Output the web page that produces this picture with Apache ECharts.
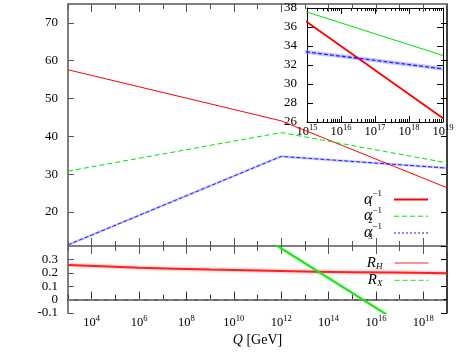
<!DOCTYPE html>
<html>
<head>
<meta charset="utf-8">
<script src="https://cdn.jsdelivr.net/npm/echarts@6/dist/echarts.min.js"></script>
<style>
  body { margin: 0; padding: 0; background: #fff; }
  #chart { width: 461px; height: 353px; }
</style>
</head>
<body>
<div id="chart"></div>
<script>
// x values are log10(Q / GeV)
const qExp = [3, 12, 19];
const alpha1Inv = [57.6, 44.1, 26.4];
const alpha2Inv = [30.8, 41.0, 33.0];
const alpha3Inv = [11.3, 34.7, 31.6];

const rhExp = [3, 6, 9, 12, 15, 19];
const rhVal = [0.258, 0.238, 0.224, 0.213, 0.205, 0.197];
const rxExp = [11.8, 16.5];
const rxVal = [0.405, -0.117];

const majorExp = [4, 6, 8, 10, 12, 14, 16, 18];
const mainYTicks = [20, 30, 40, 50, 60, 70];

const FONT = "Liberation Serif";

// log-spaced minor ticks inside the inset decades
const insetMinor = [];
for (let e = 15; e < 19; e++) {
  for (let k = 2; k <= 9; k++) insetMinor.push(e + Math.log10(k));
}

function pairs(xs, ys) {
  return xs.map((x, i) => [x, ys[i]]);
}

const powRich = {
  b: { fontFamily: FONT, fontSize: 12.5, color: "#000", lineHeight: 14 },
  s: { fontFamily: FONT, fontSize: 8.5, color: "#000", lineHeight: 9, padding: [0, 0, 9, 0] },
};
function powLabel(v) {
  return "{b|10}{s|" + Math.round(v) + "}";
}

function xAx(grid, pos, o) {
  return Object.assign(
    {
      type: "value",
      gridIndex: grid,
      position: pos,
      min: 3,
      max: 19,
      splitLine: { show: false },
      axisLine: { show: false },
      axisLabel: { show: false },
    },
    o
  );
}
function majorTick(len, color) {
  return { show: true, inside: true, length: len, customValues: majorExp, lineStyle: { color: color, width: 1 } };
}
function minorTick(len, color) {
  return { show: true, inside: true, length: len, lineStyle: { color: color, width: 1 } };
}

const grayLine = { show: true, lineStyle: { color: "#808080", width: 2 } };
const noSymbol = { color: "transparent", borderWidth: 0, opacity: 0 };

const option = {
  animation: false,
  grid: [
    { left: 68, top: 4, width: 379, height: 242, outerBoundsMode: "none" },
    { left: 68, top: 246, width: 379, height: 67, outerBoundsMode: "none" },
    { left: 307, top: 8, width: 136, height: 114, outerBoundsMode: "none" },
  ],
  xAxis: [
    // 0: main panel bottom (divider)
    xAx(0, "bottom", { axisLine: grayLine, axisTick: majorTick(8, "#555") }),
    xAx(0, "bottom", { interval: 1, axisTick: minorTick(5, "#555") }),
    // 2: main panel top
    xAx(0, "top", { axisLine: grayLine, axisTick: majorTick(8, "#555") }),
    xAx(0, "top", { interval: 1, axisTick: minorTick(5, "#555") }),
    // 4: lower panel bottom with labels
    xAx(1, "bottom", {
      axisLine: { show: true, lineStyle: { color: "#333", width: 1.5 } },
      axisTick: majorTick(8, "#333"),
      axisLabel: {
        show: true,
        customValues: majorExp,
        margin: 3,
        formatter: powLabel,
        rich: powRich,
      },
      name: "{q|Q} [GeV]",
      nameLocation: "middle",
      nameGap: 20,
      nameTextStyle: {
        fontFamily: FONT,
        fontSize: 14,
        color: "#000",
        rich: { q: { fontFamily: FONT, fontSize: 14, fontStyle: "italic", color: "#000" } },
      },
    }),
    xAx(1, "bottom", { interval: 1, axisTick: minorTick(5, "#333") }),
    // 6: lower panel top (divider)
    xAx(1, "top", { axisLine: grayLine, axisTick: majorTick(8, "#555") }),
    xAx(1, "top", { interval: 1, axisTick: minorTick(5, "#555") }),
    // 8: inset bottom
    xAx(2, "bottom", {
      min: 15,
      max: 19,
      interval: 1,
      axisLine: { show: true, lineStyle: { color: "#000", width: 1 } },
      axisTick: { show: true, inside: true, length: 6, lineStyle: { color: "#000" } },
      axisLabel: { show: true, margin: 3, formatter: powLabel, rich: powRich },
    }),
    xAx(2, "bottom", {
      min: 15,
      max: 19,
      axisTick: { show: true, inside: true, length: 3, customValues: insetMinor, lineStyle: { color: "#000" } },
    }),
    // 10: inset top
    xAx(2, "top", {
      min: 15,
      max: 19,
      interval: 1,
      axisLine: { show: true, lineStyle: { color: "#000", width: 1 } },
      axisTick: { show: true, inside: true, length: 6, lineStyle: { color: "#000" } },
    }),
    xAx(2, "top", {
      min: 15,
      max: 19,
      axisTick: { show: true, inside: true, length: 3, customValues: insetMinor, lineStyle: { color: "#000" } },
    }),
  ],
  yAxis: [
    {
      type: "value",
      gridIndex: 0,
      position: "left",
      min: 11,
      max: 75,
      splitLine: { show: false },
      axisLine: grayLine,
      axisTick: { show: true, inside: true, length: 6, customValues: mainYTicks, lineStyle: { color: "#555" } },
      axisLabel: { customValues: mainYTicks, margin: 10, fontFamily: FONT, fontSize: 13, color: "#000" },
    },
    {
      type: "value",
      gridIndex: 0,
      position: "right",
      min: 11,
      max: 75,
      splitLine: { show: false },
      axisLine: { show: true, lineStyle: { color: "#000", width: 1.5 } },
      axisTick: { show: true, inside: true, length: 6, customValues: mainYTicks, lineStyle: { color: "#000" } },
      axisLabel: { show: false },
    },
    {
      type: "value",
      gridIndex: 1,
      position: "left",
      min: -0.1,
      max: 0.4,
      interval: 0.1,
      splitLine: { show: false },
      axisLine: grayLine,
      axisTick: { show: true, inside: true, length: 6, lineStyle: { color: "#555" } },
      axisLabel: {
        margin: 10,
        showMaxLabel: false,
        fontFamily: FONT,
        fontSize: 13,
        color: "#000",
        formatter: (v) => String(Math.round(v * 10) / 10),
      },
    },
    {
      type: "value",
      gridIndex: 1,
      position: "right",
      min: -0.1,
      max: 0.4,
      interval: 0.1,
      splitLine: { show: false },
      axisLine: { show: true, lineStyle: { color: "#000", width: 1.5 } },
      axisTick: { show: true, inside: true, length: 6, lineStyle: { color: "#000" } },
      axisLabel: { show: false },
    },
    {
      type: "value",
      gridIndex: 2,
      position: "left",
      min: 26,
      max: 38,
      interval: 2,
      splitLine: { show: false },
      axisLine: { show: true, lineStyle: { color: "#000", width: 1 } },
      axisTick: { show: true, inside: true, length: 6, lineStyle: { color: "#000" } },
      axisLabel: { margin: 10, fontFamily: FONT, fontSize: 13, color: "#000" },
    },
    {
      type: "value",
      gridIndex: 2,
      position: "right",
      min: 26,
      max: 38,
      interval: 2,
      splitLine: { show: false },
      axisLine: { show: true, lineStyle: { color: "#000", width: 1 } },
      axisTick: { show: true, inside: true, length: 6, lineStyle: { color: "#000" } },
      axisLabel: { show: false },
    },
  ],
  legend: [
    {
      data: [
        { name: "a1", itemStyle: noSymbol },
        { name: "a2", itemStyle: noSymbol, lineStyle: { type: [5, 3], width: 1, color: "#00e000" } },
        { name: "a3", itemStyle: noSymbol, lineStyle: { type: [2, 2], width: 1.5, color: "#6060ff" } },
      ],
      orient: "vertical",
      align: "right",
      right: 27,
      top: 184,
      itemWidth: 34,
      itemHeight: 10,
      itemGap: -4.3,
      selectedMode: false,
      itemStyle: noSymbol,
      formatter: (name) => "{a|α}{sub|" + name.slice(1) + "}{sup|−1}",
      textStyle: {
        rich: {
          a: { fontFamily: FONT, fontSize: 16, fontStyle: "italic", color: "#000", lineHeight: 14 },
          sub: { fontFamily: FONT, fontSize: 9, color: "#000", lineHeight: 9, width: 0, padding: [8, 0, 0, 0] },
          sup: { fontFamily: FONT, fontSize: 9, color: "#000", lineHeight: 9, padding: [0, 7, 12, 0] },
        },
      },
    },
    {
      data: [
        { name: "RH", itemStyle: noSymbol, lineStyle: { width: 1, color: "#ff2020", shadowBlur: 0 } },
        { name: "RX", itemStyle: noSymbol, lineStyle: { type: [5, 3], width: 1, color: "#20e020", shadowBlur: 0 } },
      ],
      orient: "vertical",
      align: "right",
      right: 27,
      top: 250,
      itemWidth: 34,
      itemHeight: 10,
      itemGap: 1.3,
      selectedMode: false,
      itemStyle: noSymbol,
      formatter: (name) => "{r|R}{rs|" + name.slice(1) + "}",
      textStyle: {
        rich: {
          r: { fontFamily: FONT, fontSize: 15, fontStyle: "italic", color: "#000", lineHeight: 14 },
          rs: { fontFamily: FONT, fontSize: 9, fontStyle: "italic", color: "#000", lineHeight: 9, padding: [7, 7, 0, 0] },
        },
      },
    },
  ],
  series: [
    // main panel
    {
      name: "a3glow", type: "line", xAxisIndex: 0, yAxisIndex: 0, symbol: "none", silent: true,
      lineStyle: { color: "rgba(130,130,255,0.45)", width: 2.5 },
      data: pairs(qExp, alpha3Inv),
    },
    {
      name: "a1", type: "line", xAxisIndex: 0, yAxisIndex: 0, symbol: "none",
      color: "#ff0000", lineStyle: { color: "#ff0000", width: 1 },
      data: pairs(qExp, alpha1Inv),
    },
    {
      name: "a2", type: "line", xAxisIndex: 0, yAxisIndex: 0, symbol: "none",
      color: "#00e000", lineStyle: { color: "#00e000", width: 1, type: [5, 3] },
      data: pairs(qExp, alpha2Inv),
    },
    {
      name: "a3", type: "line", xAxisIndex: 0, yAxisIndex: 0, symbol: "none",
      color: "#2020ff", lineStyle: { color: "#2020ff", width: 1, type: [4, 2] },
      data: pairs(qExp, alpha3Inv),
    },
    // lower panel
    {
      name: "RH", type: "line", xAxisIndex: 4, yAxisIndex: 2, symbol: "none", smooth: 0.3,
      color: "#ff2020",
      lineStyle: { color: "#ff2020", width: 2, shadowColor: "rgba(255,0,0,0.45)", shadowBlur: 3 },
      data: pairs(rhExp, rhVal),
      markLine: {
        silent: true,
        symbol: "none",
        label: { show: false },
        lineStyle: { color: "#888", width: 1.5, type: [6, 4] },
        data: [{ yAxis: 0 }],
      },
    },
    {
      name: "RX", type: "line", xAxisIndex: 4, yAxisIndex: 2, symbol: "none",
      color: "#20e020",
      lineStyle: { color: "#20e020", width: 2, shadowColor: "rgba(0,220,0,0.45)", shadowBlur: 3 },
      data: pairs(rxExp, rxVal),
    },
    // inset
    {
      name: "i3glow", type: "line", xAxisIndex: 8, yAxisIndex: 4, symbol: "none", silent: true,
      lineStyle: { color: "rgba(140,140,255,0.5)", width: 4 },
      data: pairs(qExp, alpha3Inv),
    },
    {
      name: "inset a1", type: "line", xAxisIndex: 8, yAxisIndex: 4, symbol: "none",
      color: "#ff0000", lineStyle: { color: "#ff0000", width: 1.8 },
      data: pairs(qExp, alpha1Inv),
    },
    {
      name: "inset a2", type: "line", xAxisIndex: 8, yAxisIndex: 4, symbol: "none",
      color: "#00e000", lineStyle: { color: "#00e000", width: 1 },
      data: pairs(qExp, alpha2Inv),
    },
    {
      name: "inset a3", type: "line", xAxisIndex: 8, yAxisIndex: 4, symbol: "none",
      color: "#2020ff", lineStyle: { color: "#2020ff", width: 1.3, type: [4, 2] },
      data: pairs(qExp, alpha3Inv),
    },
  ],
};

const chart = echarts.init(document.getElementById("chart"));
chart.setOption(option);
</script>
</body>
</html>
